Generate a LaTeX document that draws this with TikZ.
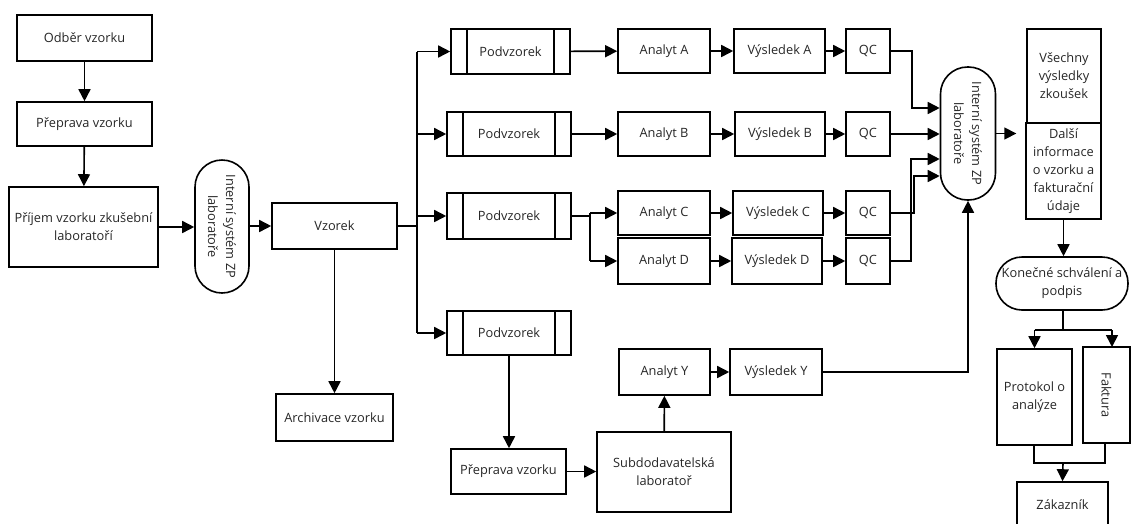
\documentclass[tikz,border=0pt]{standalone}
\usepackage{fontspec}
\setmainfont{Open Sans}
\usetikzlibrary{arrows.meta}
\begin{document}
\begin{tikzpicture}[x=1pt,y=-1pt,
  every node/.style={font=\fontsize{12.8}{18}\selectfont, text=black!85},
  sz/.style 2 args={minimum width=#1pt, minimum height=#2pt},
  box/.style={draw, line width=1.6pt, inner sep=1pt, align=center},
  pill/.style={box, rounded corners=#1},
  sub/.style={box, path picture={
      \draw[line width=1.6pt]
        ([xshift=16pt]path picture bounding box.north west) -- ([xshift=16pt]path picture bounding box.south west)
        ([xshift=-16pt]path picture bounding box.north east) -- ([xshift=-16pt]path picture bounding box.south east);}},
  vtext/.style={rotate=-90, align=center},
  line/.style={line width=1.6pt},
  arr/.style={line, -{Triangle[length=12pt,width=12pt]}}]
\useasboundingbox (0,0) rectangle (1131,523);
\clip (0,0) rectangle (1131,523);

% sample intake
\node[box, sz={135}{46}] (odber) at (84.5,38) {Odběr vzorku};
\node[box, sz={135}{44}] (preprava) at (84.5,124) {Přeprava vzorku};
\node[box, sz={149}{80}] (prijem) at (83.5,227) {Příjem vzorku zkušební\\laboratoří};
\node[pill=27pt, sz={54}{133}] (sys1) at (222,226.5) {};
\node[vtext] (sys1t) at (sys1) {Interní systém ZP\\laboratoře};
\node[box, sz={125}{46}] (vzorek) at (334.5,226) {Vzorek};
\node[box, sz={117}{47}] (archiv) at (334.5,417.5) {Archivace vzorku};

% subsamples
\node[sub, sz={119}{45}] (pod1) at (510.5,51.5) {Podvzorek};
\node[sub, sz={124}{44}] (pod2) at (509,134) {Podvzorek};
\node[sub, sz={124}{46}] (pod3) at (509,216) {Podvzorek};
\node[sub, sz={124}{44}] (pod4) at (509,333) {Podvzorek};

% analytes
\node[box, sz={92}{44}] (anA) at (664,51) {Analyt A};
\node[box, sz={92}{44}] (anB) at (664,134) {Analyt B};
\node[box, sz={92}{44}] (anC) at (664,213) {Analyt C};
\node[box, sz={92}{46}] (anD) at (664,261) {Analyt D};
\node[box, sz={91}{46}] (anY) at (664.5,372) {Analyt Y};

% results
\node[box, sz={91}{44}] (vA) at (779.5,51) {Výsledek A};
\node[box, sz={90}{44}] (vB) at (780,134) {Výsledek B};
\node[box, sz={90}{44}] (vC) at (778,213) {Výsledek C};
\node[box, sz={90}{46}] (vD) at (777,261) {Výsledek D};
\node[box, sz={92}{46}] (vY) at (776,372) {Výsledek Y};

% quality control
\node[box, sz={44}{44}] (qA) at (868,51) {QC};
\node[box, sz={44}{44}] (qB) at (868,134) {QC};
\node[box, sz={44}{44}] (qC) at (868,213) {QC};
\node[box, sz={44}{46}] (qD) at (868,261) {QC};

% subcontracting
\node[box, sz={115}{45}] (prep2) at (508.5,471.5) {Přeprava vzorku};
\node[box, sz={134}{80}] (subd) at (664,472) {Subdodavatelská\\laboratoř};

% reporting
\node[pill=27pt, sz={55}{133}] (sys2) at (968,133.5) {};
\node[vtext] (sys2t) at (sys2) {Interní systém ZP\\laboratoře};
\node[box, sz={74}{94}] (vsechny) at (1064,76) {Všechny\\výsledky\\zkoušek};
\node[box, sz={75}{96}] (dalsi) at (1063.5,171) {Další\\informace\\o vzorku a\\fakturační\\údaje};
\node[pill=26pt, sz={132}{53}, inner sep=0pt] (konecne) at (1062,283.5) {Konečné schválení a\\podpis};
\node[box, sz={75}{96}] (protokol) at (1034.5,397) {Protokol o\\analýze};
\node[box, sz={47}{96}] (faktura) at (1106.5,395) {};
\node[vtext] (fakturat) at (faktura) {Faktura};
\node[box, sz={91}{46}] (zakaznik) at (1062.5,505) {Zákazník};

% intake chain
\draw[arr] (odber) -- (preprava);
\draw[arr] (preprava) -- (prijem);
\draw[arr] (prijem.east) -- (prijem.east -| sys1.west);
\draw[arr] (sys1.east |- vzorek) -- (vzorek.west);
\draw[arr] (vzorek) -- (archiv);

% distribution to subsamples
\coordinate (tr) at (417,0);
\draw[line] (vzorek.east) -- (tr |- vzorek.east);
\draw[line] (tr |- pod1) -- (tr |- pod4);
\draw[arr] (tr |- pod1) -- (pod1.west);
\draw[arr] (tr |- pod2) -- (pod2.west);
\draw[arr] (tr |- pod3) -- (pod3.west);
\draw[arr] (tr |- pod4) -- (pod4.west);

% analyses
\draw[arr] (pod1) -- (anA);
\draw[arr] (pod2) -- (anB);
\coordinate (sp) at (590,0);
\draw[line] (pod3.east) -- (sp |- pod3.east);
\draw[line] (sp |- anC) -- (sp |- anD);
\draw[arr] (sp |- anC) -- (anC.west);
\draw[arr] (sp |- anD) -- (anD.west);
\draw[arr] (anA) -- (vA);
\draw[arr] (anB) -- (vB);
\draw[arr] (anC) -- (vC);
\draw[arr] (anD) -- (vD);
\draw[arr] (vA) -- (qA);
\draw[arr] (vB) -- (qB);
\draw[arr] (vC) -- (qC);
\draw[arr] (vD) -- (qD);

% results into the lab system
\draw[arr] (qA.east) -- ++(21,0) |- ([yshift=25.5pt]sys2.west);
\draw[arr] (qB.east) -- (qB.east -| sys2.west);
\draw[arr] (qC.east) -- ++(23,0) |- ([yshift=-42.5pt]sys2.west);
\draw[arr] (qD.east) -- ++(20,0) |- ([yshift=-25.5pt]sys2.west);
\draw[arr] (vY.east) -| (sys2.south);
\draw[arr] (sys2.east) -- ++(20,0);

% subcontracted branch
\draw[arr] (pod4.south) -- (pod4.south |- prep2.north);
\draw[arr] (prep2.east) -- (prep2.east -| subd.west);
\draw[arr] (subd) -- (anY);
\draw[arr] (anY) -- (vY);

% approval and outputs
\draw[arr] (dalsi.south) -- (dalsi.south |- konecne.north);
\coordinate (kj) at (1063,330);
\draw[line] (konecne.south -| kj) -- (kj);
\draw[line] (kj -| protokol.north) -- (kj -| 1112,0);
\draw[arr] (kj -| protokol.north) -- (protokol.north);
\draw[arr] (kj -| 1112,0) -- (1112,347);
\coordinate (pj) at (1063,463);
\draw[line] (1034,445) |- (pj) -| (1105,443);
\draw[arr] (pj) -- (zakaznik.north);
\end{tikzpicture}
\end{document}
